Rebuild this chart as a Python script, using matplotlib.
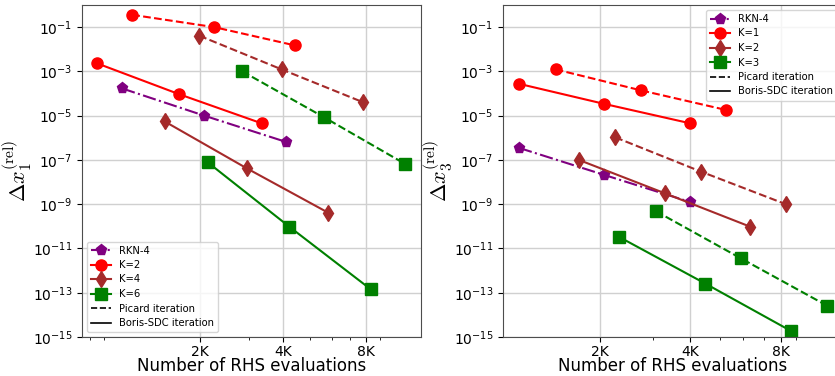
import matplotlib
matplotlib.use("Agg")
import matplotlib.pyplot as plt
from matplotlib.lines import Line2D
from matplotlib.ticker import FixedLocator, NullLocator, LogLocator, NullFormatter, LogFormatterSciNotation

plt.rcParams["mathtext.fontset"] = "cm"

# ---------------- data: left panel (x1) ----------------
L_rkn_x = [1044, 2073, 4089]
L_rkn_y = [1.7e-4, 1.0e-5, 6.6e-7]
L_k2_pic_x = [1136, 2254, 4423]
L_k2_pic_y = [0.36, 0.10, 0.0149]
L_k2_bor_x = [848, 1682, 3348]
L_k2_bor_y = [2.3e-3, 9.3e-5, 4.5e-6]
L_k4_pic_x = [1988, 3957, 7782]
L_k4_pic_y = [0.041, 1.23e-3, 4.1e-5]
L_k4_bor_x = [1489, 2954, 5840]
L_k4_bor_y = [5.5e-6, 4.2e-8, 4.1e-10]
L_k6_pic_x = [2848, 5650, 11110]
L_k6_pic_y = [1.0e-3, 8.3e-6, 6.5e-8]
L_k6_bor_x = [2131, 4217, 8340]
L_k6_bor_y = [7.9e-8, 9.6e-11, 1.4e-13]

# ---------------- data: right panel (x3) ----------------
R_rkn_x = [1076, 2067, 3995]
R_rkn_y = [3.5e-7, 2.1e-8, 1.25e-9]
R_k1_pic_x = [1425, 2732, 5263]
R_k1_pic_y = [1.23e-3, 1.4e-4, 1.8e-5]
R_k1_bor_x = [1076, 2067, 3995]
R_k1_bor_y = [2.75e-4, 3.4e-5, 4.5e-6]
R_k2_pic_x = [2249, 4325, 8332]
R_k2_pic_y = [1.05e-6, 3.0e-8, 9.8e-10]
R_k2_bor_x = [1702, 3290, 6323]
R_k2_bor_y = [1.0e-7, 3.1e-9, 9.6e-11]
R_k3_pic_x = [3071, 5889, 11380]
R_k3_pic_y = [4.8e-10, 3.55e-12, 2.6e-14]
R_k3_bor_x = [2318, 4479, 8615]
R_k3_bor_y = [3.3e-11, 2.6e-13, 1.9e-15]

xticks = [2000, 4000, 8000]
xticklabels = ["2K", "4K", "8K"]
yticks = [1e-15, 1e-13, 1e-11, 1e-9, 1e-7, 1e-5, 1e-3, 1e-1]

fig = plt.figure(figsize=(8.35, 3.76), dpi=100)
axL = fig.add_axes([82/835, 39/376, 339/835, 332/376])
axR = fig.add_axes([503/835, 39/376, 339/835, 332/376])

MS = 8
LW = 1.5

def style(ax, xlim, ylabel):
    ax.set_xscale("log")
    ax.set_yscale("log")
    ax.set_xlim(*xlim)
    ax.set_ylim(1e-15, 1e0)
    ax.xaxis.set_major_locator(FixedLocator(xticks))
    ax.set_xticklabels(xticklabels, fontsize=10)
    ax.xaxis.set_minor_locator(LogLocator(base=10, subs=range(2, 10)))
    ax.xaxis.set_minor_formatter(NullFormatter())
    ax.yaxis.set_major_locator(FixedLocator(yticks))
    ax.yaxis.set_minor_locator(NullLocator())
    ax.yaxis.set_major_formatter(LogFormatterSciNotation())
    ax.tick_params(axis="y", labelsize=10)
    ax.tick_params(axis="x", pad=2)
    for s in ax.spines.values():
        s.set_color("0.3")
    ax.grid(True, which="major", color="#d0d0d0", linewidth=1.0)
    ax.set_axisbelow(True)
    ax.set_xlabel("Number of RHS evaluations", fontsize=12, labelpad=-1)
    ax.set_ylabel(ylabel, fontsize=16)
    ax.yaxis.set_label_coords(-0.142, 0.5)

def series(ax, x, y, color, marker, ls):
    ax.plot(x, y, color=color, marker=marker, linestyle=ls, markersize=MS, linewidth=LW)

# Left
series(axL, L_k2_pic_x, L_k2_pic_y, "red", "o", "--")
series(axL, L_k2_bor_x, L_k2_bor_y, "red", "o", "-")
series(axL, L_rkn_x, L_rkn_y, "purple", "p", "-.")
series(axL, L_k4_pic_x, L_k4_pic_y, "brown", "d", "--")
series(axL, L_k4_bor_x, L_k4_bor_y, "brown", "d", "-")
series(axL, L_k6_pic_x, L_k6_pic_y, "green", "s", "--")
series(axL, L_k6_bor_x, L_k6_bor_y, "green", "s", "-")
style(axL, (747, 12660), r"$\Delta x_1^{(\mathrm{rel})}$")

# Right
series(axR, R_k1_pic_x, R_k1_pic_y, "red", "o", "--")
series(axR, R_k1_bor_x, R_k1_bor_y, "red", "o", "-")
series(axR, R_rkn_x, R_rkn_y, "purple", "p", "-.")
series(axR, R_k2_pic_x, R_k2_pic_y, "brown", "d", "--")
series(axR, R_k2_bor_x, R_k2_bor_y, "brown", "d", "-")
series(axR, R_k3_pic_x, R_k3_pic_y, "green", "s", "--")
series(axR, R_k3_bor_x, R_k3_bor_y, "green", "s", "-")
style(axR, (952, 12760), r"$\Delta x_3^{(\mathrm{rel})}$")

def handles(labels):
    specs = [("purple", "p", "-."), ("red", "o", "-"), ("brown", "d", "-"), ("green", "s", "-")]
    h = [Line2D([], [], color=c, marker=m, linestyle=ls, markersize=MS, linewidth=LW, label=l)
         for (c, m, ls), l in zip(specs, labels)]
    h.append(Line2D([], [], color="black", linestyle="--", linewidth=1.2, label="Picard iteration"))
    h.append(Line2D([], [], color="black", linestyle="-", linewidth=1.2, label="Boris-SDC iteration"))
    return h

axL.legend(handles=handles(["RKN-4", "K=2", "K=4", "K=6"]), loc="lower left", fontsize=7.2,
           labelspacing=0.45, handlelength=2.0)
axR.legend(handles=handles(["RKN-4", "K=1", "K=2", "K=3"]), loc="upper right", fontsize=7.2,
           labelspacing=0.45, handlelength=2.0)

fig.savefig("out.png", dpi=100)
